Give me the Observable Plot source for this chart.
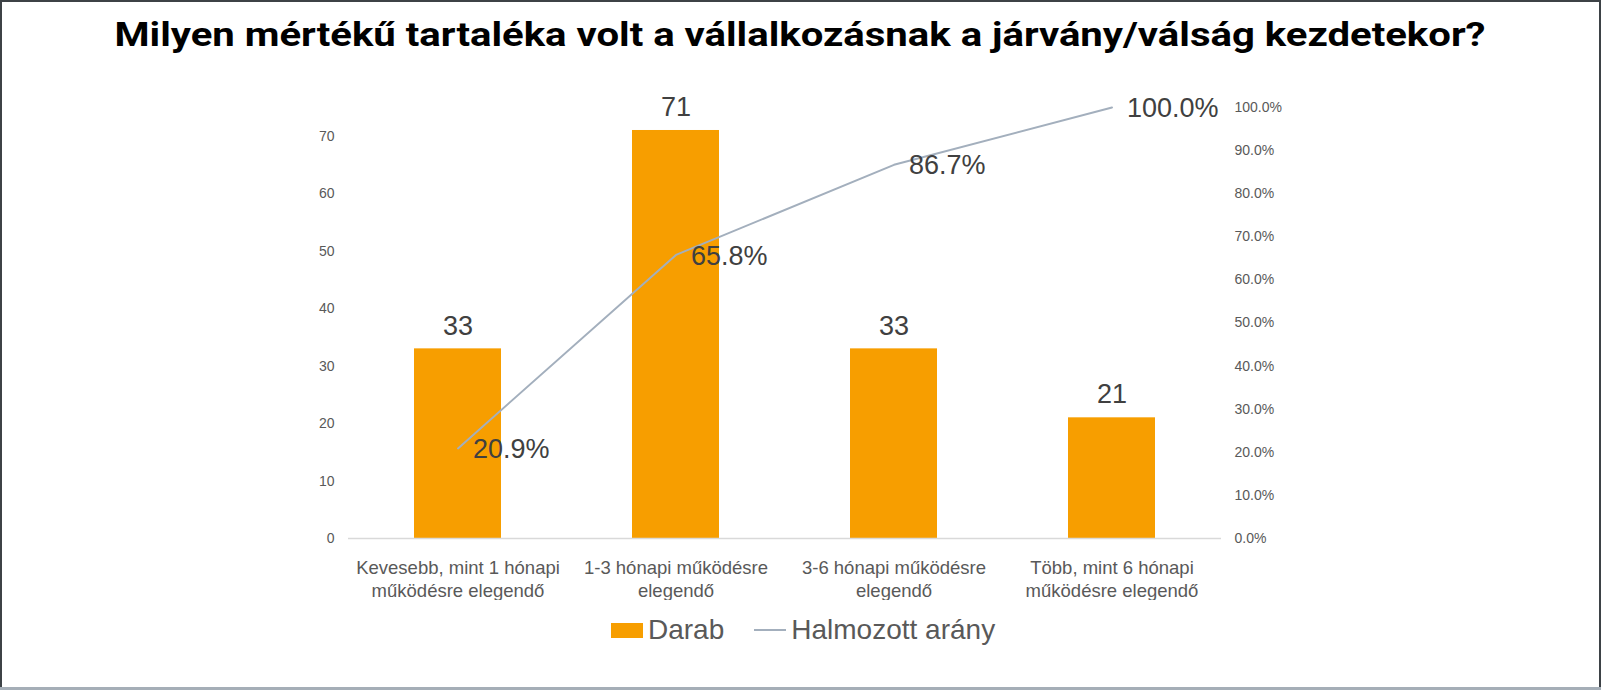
<!DOCTYPE html>
<html>
<head>
<meta charset="utf-8">
<script src="https://cdn.jsdelivr.net/npm/d3@7"></script>
<script src="https://cdn.jsdelivr.net/npm/@observablehq/plot@0.6"></script>
<style>
  html, body { margin: 0; padding: 0; background: #fff; }
  #wrap { position: relative; width: 1601px; height: 690px; overflow: hidden; background: #fff; font-family: "Liberation Sans", Arial, sans-serif; }
  .edge { position: absolute; }
  #title { position: absolute; left: 0; top: 0; }
  #chart { position: absolute; left: 0; top: 80px; }
  #legend { position: absolute; left: 611px; top: 610px; height: 40px; display: flex; align-items: center; font-size: 28px; color: #595959; }
  .sw { display: inline-block; width: 32px; height: 15px; background: #f79e00; margin-right: 5px; }
  .ln { display: inline-block; width: 32px; height: 2px; background: #a3afbd; margin-left: 30px; margin-right: 5px; }
</style>
</head>
<body>
<div id="wrap">
  <div class="edge" style="left:0;top:0;width:1601px;height:2px;background:#3d4246"></div>
  <div class="edge" style="left:0;top:0;width:2px;height:690px;background:#3d4246"></div>
  <div class="edge" style="right:0;top:0;width:2px;height:690px;background:#3d4246"></div>
  <div class="edge" style="left:0;top:687px;width:1601px;height:3px;background:#a5aeb7"></div>
  <div id="title"></div>
  <div id="chart"></div>
  <div id="legend"><span class="sw"></span><span>Darab</span><span class="ln"></span><span>Halmozott arány</span></div>
</div>
<script>
const titleText = "Milyen mértékű tartaléka volt a vállalkozásnak a járvány/válság kezdetekor?";
const categories = [
  "Kevesebb, mint 1 hónapi\nműködésre elegendő",
  "1-3 hónapi működésre\nelegendő",
  "3-6 hónapi működésre\nelegendő",
  "Több, mint 6 hónapi\nműködésre elegendő"
];
const counts = [33, 71, 33, 21];
const cumulative = [0.209, 0.658, 0.867, 1.0];
const cumulativeLabels = ["20.9%", "65.8%", "86.7%", "100.0%"];
const leftTicks = [0, 10, 20, 30, 40, 50, 60, 70];
const rightTicks = [0, 0.1, 0.2, 0.3, 0.4, 0.5, 0.6, 0.7, 0.8, 0.9, 1.0];
const leftMax = 75;

// Title
const tsvg = d3.create("svg").attr("width", 1601).attr("height", 80);
tsvg.append("text")
  .attr("x", 800).attr("y", 46)
  .attr("text-anchor", "middle")
  .attr("font-family", "Roboto, 'Liberation Sans', Arial, sans-serif")
  .attr("font-weight", "bold")
  .attr("font-size", 34)
  .attr("fill", "#000")
  .attr("textLength", 1371)
  .attr("lengthAdjust", "spacingAndGlyphs")
  .text(titleText);
document.getElementById("title").append(tsvg.node());

const barData = categories.map((c, i) => ({cat: c, n: counts[i]}));
const lineData = categories.map((c, i) => ({cat: c, v: cumulative[i] * leftMax, label: cumulativeLabels[i]}));

const chart = Plot.plot({
  width: 1601,
  height: 520,
  marginLeft: 348,
  marginRight: 380,
  marginTop: 27,
  marginBottom: 62,
  style: {fontFamily: "'Liberation Sans', Arial, sans-serif", background: "transparent"},
  x: {domain: categories, paddingInner: 0.6, paddingOuter: 0.3},
  y: {domain: [0, leftMax]},
  marks: [
    Plot.axisY(leftTicks, {anchor: "left", tickSize: 0, tickPadding: 14, fontSize: 14, fill: "#595959", label: null}),
    Plot.axisY(rightTicks.map(p => p * leftMax), {anchor: "right", tickSize: 0, tickPadding: 13, fontSize: 14, fill: "#595959", label: null,
      tickFormat: d => (d / leftMax * 100).toFixed(1) + "%"}),
    Plot.axisX({tickSize: 0, tickPadding: 19, fontSize: 18.5, lineHeight: 1.25, fill: "#595959", label: null}),
    Plot.barY(barData, {x: "cat", y: "n", fill: "#f79e00"}),
    Plot.ruleY([0], {stroke: "#d9d9d9", strokeWidth: 1.5}),
    Plot.line(lineData, {x: "cat", y: "v", stroke: "#a3afbd", strokeWidth: 2}),
    Plot.text(barData, {x: "cat", y: "n", text: d => String(d.n), fontSize: 27, fill: "#404040", lineAnchor: "middle", dy: -23}),
    Plot.text(lineData, {x: "cat", y: "v", text: "label", fontSize: 27, fill: "#404040", textAnchor: "start", lineAnchor: "middle", dx: 15, dy: 1})
  ]
});
document.getElementById("chart").append(chart);
</script>
</body>
</html>
